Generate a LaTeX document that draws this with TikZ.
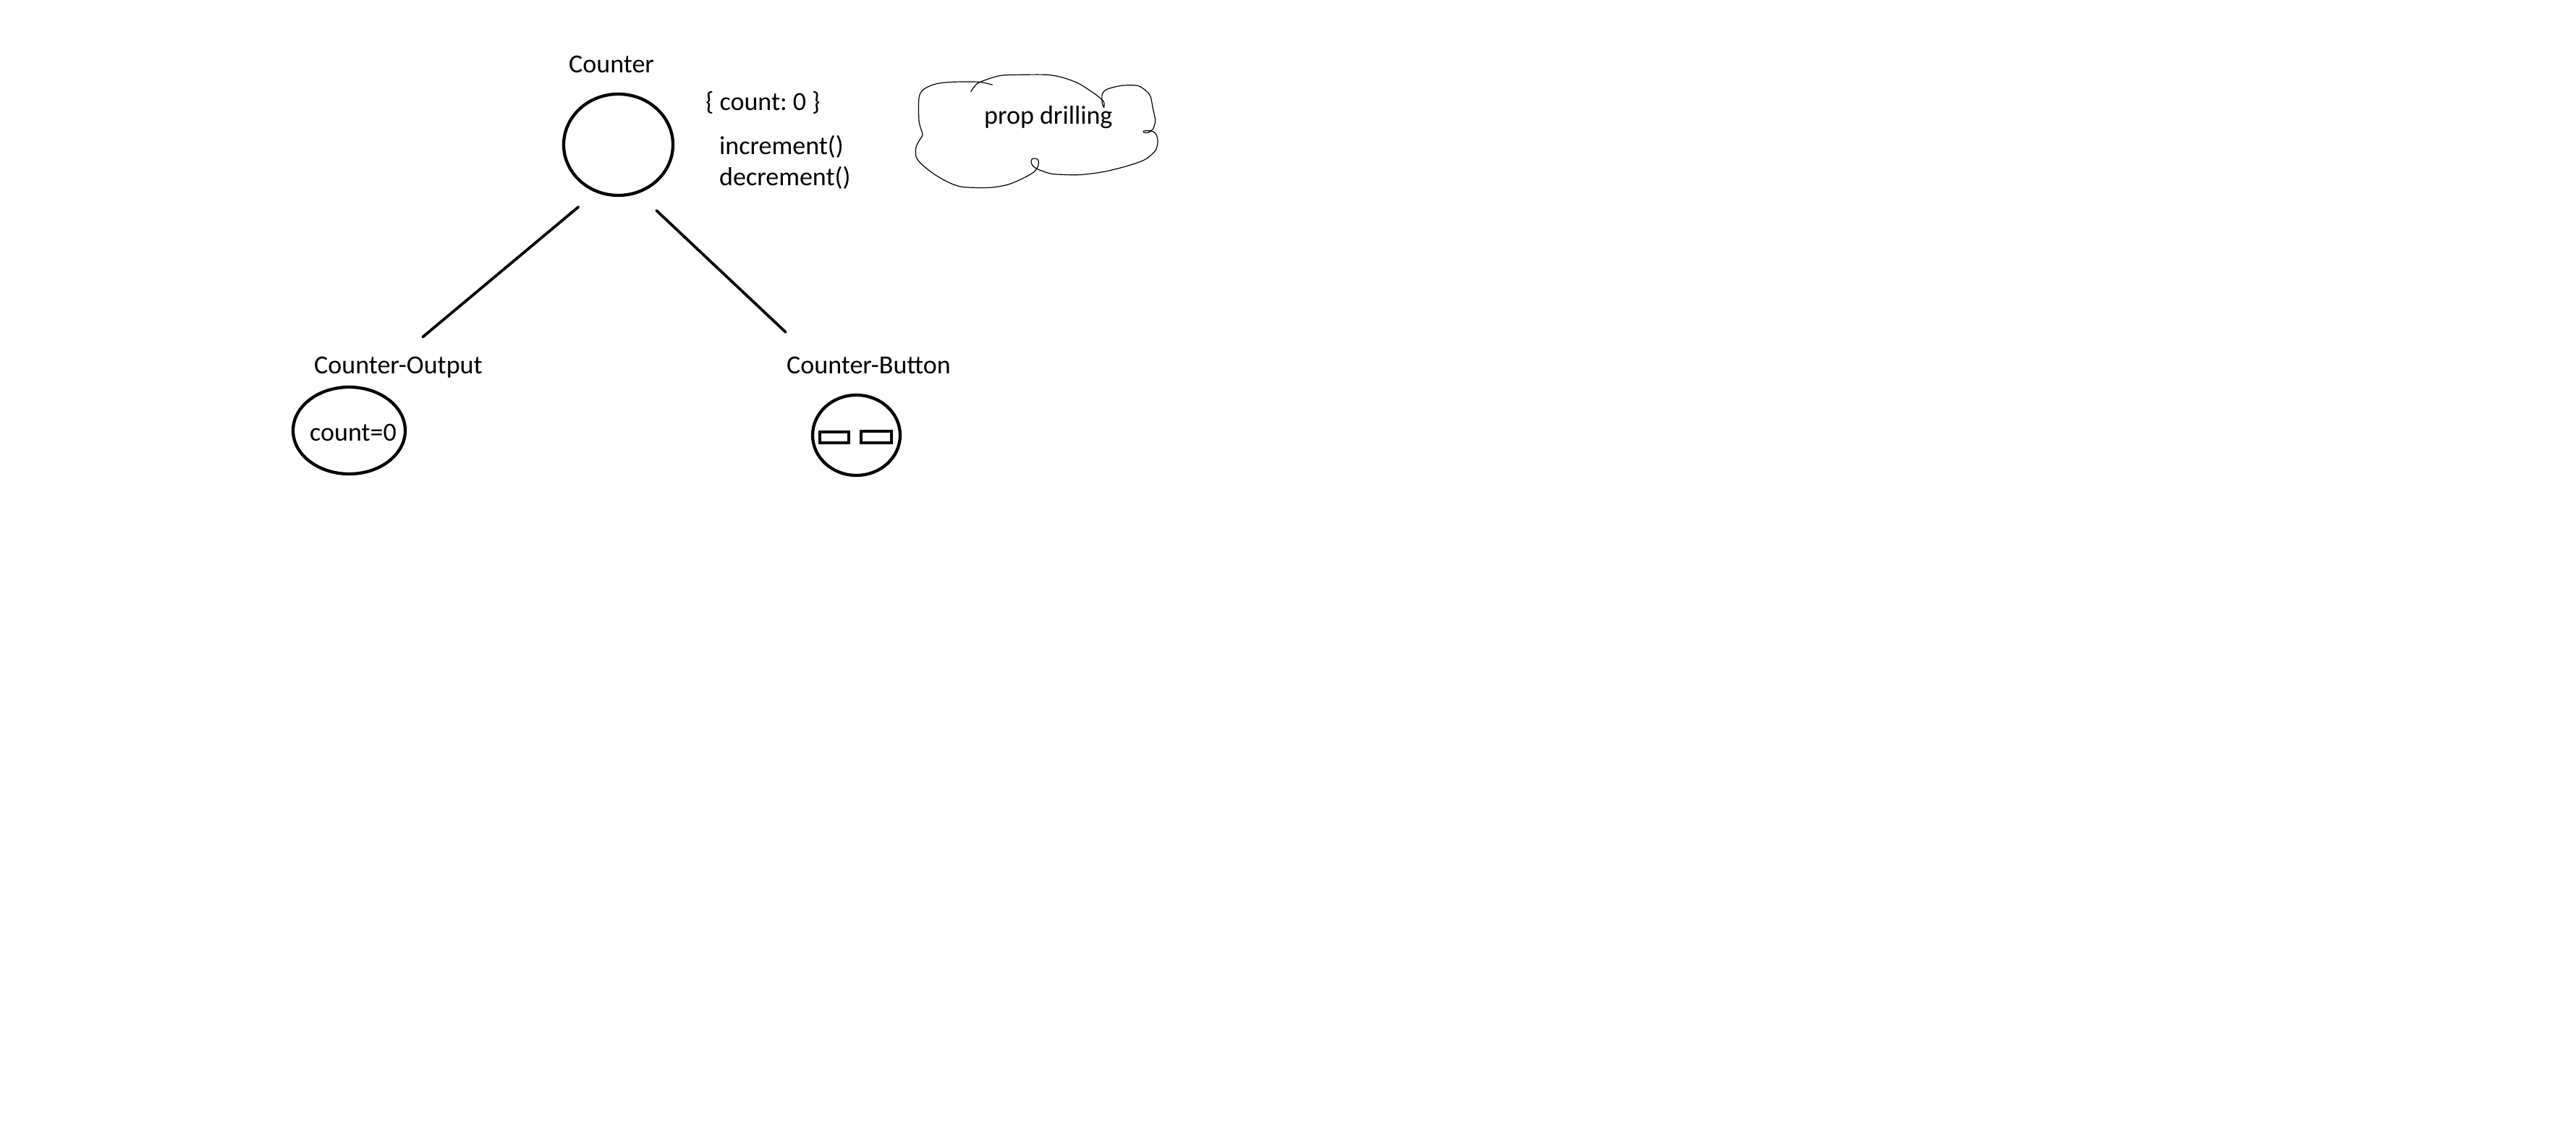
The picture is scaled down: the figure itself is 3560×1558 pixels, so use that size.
\documentclass[tikz,border=0pt]{standalone}
\usepackage{fontspec}
\setmainfont{Carlito}
\usetikzlibrary{shapes.geometric}
\frenchspacing
\begin{document}
\begin{tikzpicture}[x=1pt,y=-1pt,
  lbl/.style={inner sep=0pt, anchor=base west, font=\fontsize{36}{43}\selectfont},
  comp/.style={draw, ellipse, line width=4.3pt, inner sep=0pt},
  btn/.style={draw, rectangle, line width=4pt, inner sep=0pt},
  edge/.style={line width=3.8pt, line cap=round},
  cloudline/.style={line width=1.2pt, line join=round}]
\useasboundingbox[fill=white] (0,0) rectangle (3560,1558);
% component circles
\node[comp, minimum width=151pt, minimum height=140pt] (counter) at (854.5,200) {};
\node[comp, minimum width=155pt, minimum height=120pt] (output) at (482.5,595) {};
\node[comp, minimum width=121pt, minimum height=111pt] (button) at (1183.5,601.5) {};
% labels
\node[lbl] (counterlbl) at (786,100) {Counter};
\node[lbl] (state) at (975,152) {\{ count: 0 \}};
\node[lbl] (inc) at (994,213) {increment()};
\node[lbl] (dec) at (994,256) {decrement()};
\node[lbl] (outputlbl) at (434,516) {Counter-Output};
\node[lbl] (countval) at (428,609) {count=0};
\node[lbl] (buttonlbl) at (1087,516) {Counter-Button};
\node[lbl] (prop) at (1360,171) {prop drilling};
% buttons inside
\node[btn, minimum width=40pt, minimum height=15pt] (btnA) at (1153,604.5) {};
\node[btn, minimum width=42pt, minimum height=16pt] (btnB) at (1211,604) {};
% connectors
\coordinate (cL) at (799.3,286);
\coordinate (oT) at (584.3,465.7);
\coordinate (cR) at (907.3,291);
\coordinate (bT) at (1085.7,459);
\draw[edge] (cL) -- (oT);
\draw[edge] (cR) -- (bT);
% cloud
\begin{scope}[shift={(1250,80)}, x=0.3333pt, y=-0.3333pt]
\draw[cloudline] plot[smooth, tension=0.5] coordinates {
 (365,112) (310,100) (200,100) (130,108) (80,130) (60,165) (60,260) (70,300) (75,320)
 (60,345) (48,370) (48,410) (70,440) (120,480) (180,515) (240,535) (350,538) (430,525)
 (500,495) (540,470) (555,445) (555,425) (545,418) (530,418) (525,430) (530,445)
 (545,458) (580,472) (620,482) (720,485) (810,475) (880,460) (950,440) (1000,420)
 (1040,385) (1050,350) (1045,320) (1030,305) (1010,302) (992,303) (992,309) (1010,310)
 (1030,295) (1040,260) (1030,210) (1020,160) (1000,135) (965,115) (900,115) (840,130)
 (820,150) (820,190) (827,205) (825,180) (790,150) (720,105) (650,80) (590,70)
 (480,70) (400,73) (340,90) (300,108) (275,140)};
\end{scope}
\end{tikzpicture}
\end{document}
